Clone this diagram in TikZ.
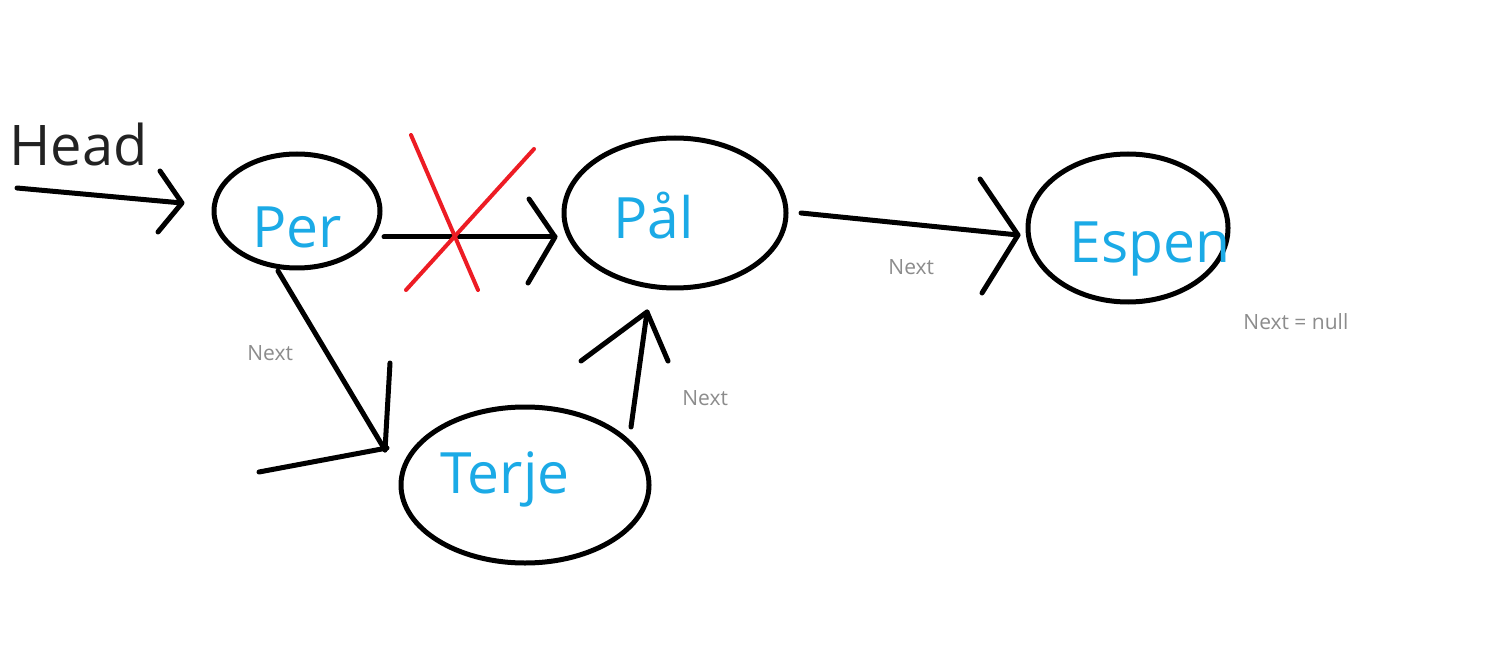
\documentclass[tikz,border=0pt]{standalone}
\usepackage{fontspec}
\setmainfont{Open Sans}
\usetikzlibrary{shapes.geometric}
\definecolor{nameblue}{RGB}{27,170,230}
\definecolor{labelgray}{RGB}{140,140,140}
\definecolor{crossred}{RGB}{237,28,36}
\definecolor{headink}{RGB}{34,34,34}
\begin{document}
\begin{tikzpicture}[x=0.5pt,y=-0.5pt,
  oval/.style={draw=black,line width=2.5pt,ellipse,inner sep=0pt},
  stroke/.style={draw=black,line width=2.5pt,line cap=round,line join=round},
  cross/.style={draw=crossred,line width=2pt,line cap=round},
  nametxt/.style={text=nameblue,font=\fontsize{28.5}{30}\selectfont,anchor=base west,inner sep=0pt},
  lbl/.style={text=labelgray,font=\fontsize{10.5}{12}\selectfont,anchor=base west,inner sep=0pt}]
\useasboundingbox[fill=white] (0,0) rectangle (1491,657);

% ellipses
\node[oval,minimum width=83pt,minimum height=57pt] (per) at (297,211) {};
\node[oval,minimum width=111pt,minimum height=75pt] (pal) at (675,213) {};
\node[oval,minimum width=100pt,minimum height=74pt] (espen) at (1128,228) {};
\node[oval,minimum width=124pt,minimum height=78pt] (terje) at (525,485) {};

% texts
\node[text=headink,font=\fontsize{28}{30}\selectfont,anchor=base west,inner sep=0pt] (head) at (9,166) {Head};
\node[nametxt] (pertxt) at (252,248) {Per};
\node[nametxt] (paltxt) at (613,239) {Pål};
\node[nametxt] (espentxt) at (1069,263) {Espen};
\node[nametxt] (terjetxt) at (440,493) {Terje};
\node[lbl] (l1) at (247,360) {Next};
\node[lbl] (l2) at (682,405) {Next};
\node[lbl] (l3) at (888,275) {Next};
\node[lbl] (l4) at (1243,329) {Next = null};

% Head -> Per
\coordinate (h0) at (17,188);
\coordinate (h1) at (182,203);
\coordinate (h2) at (160,171);
\coordinate (h3) at (158,232);
\draw[stroke] (h0) -- (h1);
\draw[stroke] (h2) -- (h1) -- (h3);

% Per -> Pal (crossed out)
\coordinate (a0) at (384,237);
\coordinate (a1) at (555,237);
\coordinate (a2) at (529,199);
\coordinate (a3) at (528,283);
\draw[stroke] (a0) -- (a1);
\draw[stroke] (a2) -- (a1) -- (a3);
\coordinate (x1) at (411,135);
\coordinate (x2) at (478,290);
\coordinate (x3) at (534,149);
\coordinate (x4) at (406,290);
\draw[cross] (x1) -- (x2);
\draw[cross] (x3) -- (x4);

% Pal -> Espen
\coordinate (b0) at (801,213);
\coordinate (b1) at (1018,235);
\coordinate (b2) at (980,179);
\coordinate (b3) at (982,293);
\draw[stroke] (b0) -- (b1);
\draw[stroke] (b2) -- (b1) -- (b3);

% Per -> Terje
\coordinate (c0) at (278,271);
\coordinate (c1) at (385,450);
\coordinate (c2) at (390,363);
\coordinate (c3) at (259,472);
\coordinate (c4) at (387,448);
\draw[stroke] (c0) -- (c1);
\draw[stroke] (c2) -- (c1);
\draw[stroke] (c3) -- (c4);

% Terje -> Pal
\coordinate (d0) at (631,427);
\coordinate (d1) at (647,312);
\coordinate (d2) at (581,361);
\coordinate (d3) at (668,361);
\draw[stroke] (d0) -- (d1);
\draw[stroke] (d2) -- (d1) -- (d3);
\end{tikzpicture}
\end{document}
